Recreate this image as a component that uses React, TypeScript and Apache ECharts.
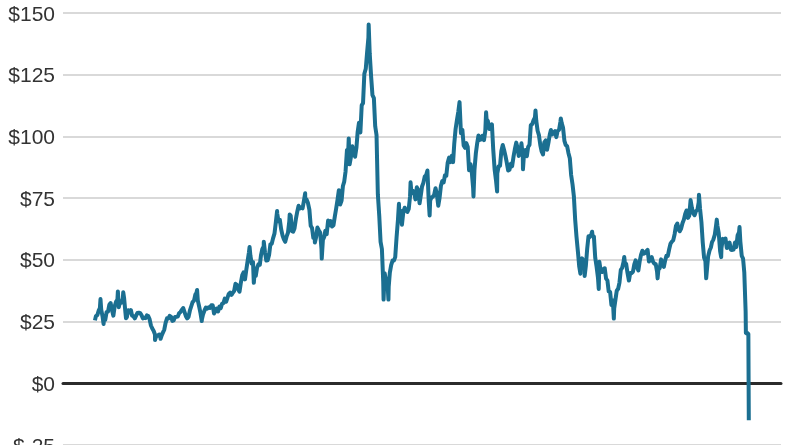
import React, { useEffect, useRef } from "react";
import * as echarts from "echarts";

// WTI crude price (USD/barrel), Jan 2000 – Apr 2020
const startYear = 2000;

// Mid-month levels
const monthlyPrices: number[] = [
  27.2, 29.4, 29.9, 25.7, 28.8, 31.8, 29.7, 31.2, 33.9, 33.1, 34.4, 28.5,
  29.6, 29.6, 27.2, 27.4, 28.6, 27.6, 26.5, 27.5, 25.9, 22.2, 19.7, 19.3,
  19.7, 20.7, 24.5, 26.2, 27.0, 25.5, 26.9, 28.4, 29.7, 28.9, 26.3, 29.4,
  32.9, 35.9, 33.6, 28.3, 28.1, 30.7, 30.8, 31.6, 28.3, 30.3, 31.1, 32.2,
  34.3, 34.7, 36.7, 36.7, 40.3, 38.0, 40.7, 44.9, 46.0, 53.1, 48.5, 43.3,
  46.8, 48.0, 54.3, 53.0, 49.8, 56.3, 58.7, 65.0, 65.6, 62.4, 58.3, 59.4,
  65.5, 61.6, 62.7, 69.4, 70.8, 70.9, 74.4, 73.0, 63.8, 58.9, 59.1, 62.0,
  54.5, 59.3, 60.4, 64.0, 63.5, 67.5, 74.1, 72.4, 79.9, 85.8, 94.8, 91.7,
  93.0, 95.4, 105.5, 112.6, 125.4, 133.9, 133.4, 116.7, 104.1, 76.6, 57.3, 41.1,
  41.7, 39.1, 47.9, 49.7, 59.0, 69.6, 64.2, 71.1, 69.4, 75.7, 78.0, 74.5,
  78.3, 76.4, 81.2, 84.3, 73.7, 75.3, 76.3, 76.6, 75.2, 81.9, 84.3, 89.2,
  89.6, 89.6, 102.9, 110.0, 101.3, 96.3, 97.3, 86.3, 85.5, 86.3, 97.2, 98.6,
  100.3, 102.2, 106.2, 103.3, 94.7, 82.3, 87.9, 94.1, 94.5, 89.5, 86.5, 87.9,
  94.8, 95.3, 92.9, 92.0, 94.5, 95.8, 104.6, 106.6, 106.3, 100.5, 93.9, 97.6,
  94.6, 100.8, 100.8, 102.1, 102.2, 105.8, 103.6, 96.5, 93.2, 84.4, 75.8, 59.3,
  47.2, 50.6, 47.8, 54.5, 59.3, 59.8, 50.9, 42.9, 45.5, 46.2, 42.4, 37.2,
  31.7, 30.3, 37.5, 40.8, 46.7, 48.8, 44.7, 44.7, 45.2, 49.8, 45.7, 52.0,
  52.5, 53.5, 49.3, 51.1, 48.5, 45.2, 46.6, 48.0, 49.8, 51.6, 56.6, 57.9,
  63.7, 62.2, 62.7, 66.3, 70.0, 67.9, 71.0, 68.1, 70.2, 70.8, 57.0, 49.5,
  51.4, 55.0, 58.2, 63.9, 60.8, 54.7, 57.4, 54.8, 57.0, 54.0, 57.0, 59.9,
  57.5, 50.5, 29.2, 20.0,
];

// Month-end closes (Jan 2000 – Mar 2020)
const monthEndPrices: number[] = [
  27.6, 30.4, 26.9, 25.7, 29.0, 32.5, 27.4, 33.1, 30.8, 32.7, 34.4, 26.8,
  28.7, 27.4, 26.3, 28.5, 28.4, 26.3, 26.4, 27.2, 23.4, 21.2, 19.4, 19.8,
  19.5, 21.7, 26.3, 27.3, 25.3, 26.9, 27.0, 28.9, 30.5, 27.2, 26.9, 31.2,
  33.5, 36.6, 31.0, 25.8, 29.6, 30.2, 30.5, 31.6, 29.2, 29.1, 30.4, 32.5,
  33.1, 36.2, 35.8, 37.4, 39.9, 37.1, 43.8, 42.1, 49.6, 51.8, 49.1, 43.5,
  48.2, 51.8, 55.4, 49.7, 52.0, 56.5, 60.6, 68.9, 66.2, 59.8, 57.3, 61.0,
  67.9, 61.4, 66.6, 71.9, 71.3, 73.9, 74.4, 70.3, 62.9, 58.7, 63.1, 61.1,
  58.1, 61.8, 65.9, 65.7, 64.0, 70.7, 78.2, 74.0, 81.7, 94.5, 88.7, 96.0,
  91.8, 101.8, 101.6, 113.5, 127.4, 140.0, 124.1, 115.5, 100.6, 67.8, 54.4, 44.6,
  41.7, 44.8, 49.7, 51.1, 66.3, 69.9, 69.5, 70.0, 70.6, 77.0, 77.3, 79.4,
  72.9, 79.7, 83.8, 86.2, 74.0, 75.6, 79.0, 71.9, 80.0, 81.4, 84.1, 91.4,
  92.2, 97.0, 106.7, 113.9, 102.7, 95.4, 95.7, 88.8, 79.2, 93.2, 100.4, 98.8,
  98.5, 107.1, 103.0, 104.9, 86.5, 85.0, 88.1, 96.5, 92.2, 86.2, 88.9, 91.8,
  97.5, 92.1, 97.2, 93.5, 92.0, 96.6, 105.0, 107.7, 102.3, 96.4, 92.7, 98.4,
  97.5, 102.6, 101.6, 99.7, 102.7, 105.4, 98.2, 96.0, 91.2, 80.5, 66.2, 53.3,
  48.2, 49.8, 47.6, 59.6, 60.3, 59.5, 47.1, 49.2, 45.1, 46.6, 41.7, 37.0,
  33.6, 33.8, 38.3, 45.9, 49.1, 48.3, 41.6, 44.7, 48.2, 46.9, 49.4, 53.7,
  52.8, 54.0, 50.6, 49.3, 48.3, 46.0, 50.2, 47.2, 51.7, 54.4, 57.4, 60.4,
  64.7, 61.6, 64.9, 68.6, 67.0, 74.2, 68.8, 69.8, 73.3, 65.3, 50.9, 45.4,
  53.8, 57.2, 60.1, 63.9, 53.5, 58.5, 58.6, 55.1, 54.1, 54.2, 55.2, 61.1,
  51.6, 44.8, 20.5,
];

// Daily highs / lows visible in the chart
const spikeDates: string[] = [
  "2000-01-04", "2000-03-07", "2000-04-11", "2000-09-20", "2000-11-20", "2000-12-21",
  "2001-11-15", "2002-01-17", "2003-03-07", "2003-04-29", "2004-10-22", "2004-12-09",
  "2005-04-01", "2005-08-30", "2005-11-30", "2006-01-20", "2006-07-14", "2006-11-01",
  "2007-01-18", "2007-11-20", "2008-07-03", "2008-12-19", "2009-02-12", "2009-06-11",
  "2009-10-21", "2010-05-25", "2011-04-29", "2011-10-04", "2012-02-24", "2012-06-28",
  "2013-04-17", "2013-09-06", "2014-06-20", "2015-01-28", "2015-03-17", "2015-06-10",
  "2015-08-24", "2016-02-11", "2016-06-08", "2017-06-21", "2018-10-03", "2018-12-24",
  "2019-04-23", "2019-06-12", "2020-01-06", "2020-03-18", "2020-03-30", "2020-04-20",
];
const spikeValues: number[] = [
  25.5, 34.1, 24.0, 37.2, 36.9, 26.3,
  17.5, 18.0, 37.8, 25.2, 55.2, 40.7,
  57.3, 69.8, 57.3, 68.4, 77.0, 57.0,
  50.5, 99.2, 145.3, 33.9, 33.9, 72.7,
  81.4, 68.0, 113.9, 75.7, 109.8, 77.7,
  86.7, 110.5, 107.3, 44.4, 43.5, 61.4,
  38.2, 26.2, 51.2, 42.5, 76.4, 42.5,
  66.3, 51.1, 63.3, 20.4, 20.1, -15.0,
];

const yTicks = { min: -25, max: 150, interval: 25 };

function buildSeries(): [number, number][] {
  const pts: [number, number][] = [];
  monthlyPrices.forEach((v, i) => {
    const y = startYear + Math.floor(i / 12);
    const m = i % 12;
    pts.push([Date.UTC(y, m, 15), v]);
  });
  monthEndPrices.forEach((v, i) => {
    const y = startYear + Math.floor(i / 12);
    const m = i % 12;
    pts.push([Date.UTC(y, m + 1, 0), v]);
  });
  spikeDates.forEach((d, i) => {
    const [y, m, dd] = d.split("-").map(Number);
    pts.push([Date.UTC(y, m - 1, dd), spikeValues[i]]);
  });
  pts.sort((a, b) => a[0] - b[0]);
  return pts;
}

export default function App() {
  const ref = useRef<HTMLDivElement>(null);
  useEffect(() => {
    if (!ref.current) return;
    const chart = echarts.init(ref.current, null, { renderer: "svg" });
    chart.setOption({
      animation: false,
      grid: {
        left: 63,
        right: 19,
        top: 13,
        bottom: 0,
        containLabel: false,
        outerBoundsMode: "none",
      },
      xAxis: {
        type: "time",
        min: Date.UTC(1999, 0, 7),
        max: Date.UTC(2021, 3, 20),
        axisLine: { onZero: true, lineStyle: { color: "#2b2b2b", width: 3 } },
        axisTick: { show: false },
        axisLabel: { show: false },
        splitLine: { show: false },
      },
      yAxis: {
        type: "value",
        min: yTicks.min,
        max: yTicks.max,
        interval: yTicks.interval,
        axisLine: { show: false },
        axisTick: { show: false },
        axisLabel: {
          margin: 8,
          color: "#333",
          fontSize: 21,
          fontFamily: "Liberation Sans, Arial, sans-serif",
          formatter: (v: number) => (v < 0 ? "$-" + Math.abs(v) : "$" + v),
        },
        splitLine: { lineStyle: { color: "#cccccc", width: 1.5 } },
      },
      series: [
        {
          type: "line",
          data: buildSeries(),
          showSymbol: false,
          symbol: "none",
          clip: false,
          lineStyle: { color: "#1b6f91", width: 4, join: "round" },
          z: 5,
        },
      ],
    });
    return () => chart.dispose();
  }, []);
  return (
    <div
      ref={ref}
      style={{ position: "fixed", left: 0, top: 0, width: 800, height: 445 }}
    />
  );
}
